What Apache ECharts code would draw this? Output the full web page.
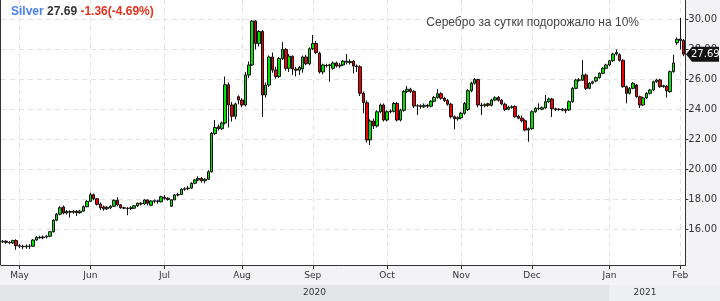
<!DOCTYPE html>
<html><head><meta charset="utf-8">
<script src="https://cdn.jsdelivr.net/npm/echarts@6/dist/echarts.min.js"></script>
<style>html,body{margin:0;padding:0;background:#f3f3f5}#c{width:720px;height:301px}</style>
</head><body><div id="c"></div><script>
// ---- data ----
const firstDay = '2020-04-24';
const lastDay = '2021-02-02';
// [open, close, low, high] per trading day
const candles = [
[15.18,15.22,15.10,15.30],[15.22,15.14,15.05,15.28],[15.14,15.12,15.02,15.22],[15.10,15.26,15.05,15.32],[15.26,14.92,14.65,15.35],
[14.92,14.88,14.75,15.02],[14.88,14.85,14.68,14.98],[14.85,14.90,14.72,15.00],[14.90,14.88,14.70,15.02],[14.88,15.30,14.85,15.35],
[15.30,15.48,15.25,15.55],[15.48,15.45,15.38,15.58],[15.45,15.50,15.35,15.60],[15.50,15.55,15.40,15.62],[15.55,15.85,15.48,15.90],
[15.85,16.62,15.80,16.68],[16.62,17.02,16.55,17.10],[17.02,17.45,16.95,17.55],[17.50,17.10,17.00,17.60],[17.10,17.20,17.00,17.30],
[17.20,17.15,16.80,17.28],[17.15,17.22,17.05,17.30],[17.22,17.12,16.90,17.30],[17.12,17.22,17.05,17.32],[17.22,17.52,17.18,17.60],
[17.52,17.88,17.48,17.95],[17.88,18.32,17.85,18.45],[18.32,18.05,17.95,18.40],[18.05,17.68,17.60,18.10],[17.70,17.45,17.30,17.80],
[17.50,17.38,17.25,17.60],[17.38,17.48,17.30,17.55],[17.45,17.55,17.35,17.62],[17.55,17.95,17.50,18.00],[17.95,17.65,17.55,18.15],
[17.65,17.45,17.38,17.70],[17.45,17.42,17.35,17.52],[17.42,17.40,16.95,17.50],[17.40,17.45,17.30,17.55],[17.42,17.58,17.38,17.62],
[17.58,17.75,17.50,17.80],[17.75,17.70,17.60,17.82],[17.70,17.97,17.62,18.02],[17.97,17.75,17.60,18.00],[17.62,17.90,17.55,17.95],
[17.88,17.92,17.75,18.00],[17.90,17.88,17.72,17.98],[17.85,18.18,17.80,18.25],[18.15,18.08,17.98,18.30],[18.08,18.00,17.92,18.15],
[17.55,17.98,17.50,18.02],[17.98,18.30,17.95,18.38],[18.30,18.33,18.20,18.45],[18.33,18.68,18.30,18.75],[18.68,18.72,18.58,18.82],
[18.72,18.76,18.62,18.90],[18.76,19.08,18.72,19.15],[19.08,19.30,19.02,19.38],[19.30,19.40,19.22,19.55],[19.40,19.25,19.12,19.50],
[19.25,19.35,19.08,19.42],[19.35,19.85,19.30,19.95],[19.85,22.40,19.80,22.50],[22.40,22.80,22.30,23.30],[22.85,22.72,22.60,23.00],
[22.72,23.10,22.65,23.20],[23.10,25.65,23.00,26.20],[25.65,24.30,22.80,25.80],[24.30,23.55,23.20,24.50],[23.55,24.37,23.35,24.45],
[24.85,24.63,24.35,24.95],[24.63,24.30,24.15,24.75],[24.30,26.30,24.20,26.50],[26.30,26.97,26.10,27.20],[26.97,29.90,26.90,29.95],
[29.90,28.40,28.00,29.95],[28.40,29.20,28.20,29.30],[29.20,24.97,23.50,29.30],[24.97,25.63,24.80,25.80],[25.63,27.50,25.50,27.60],
[27.50,26.63,26.45,27.80],[26.63,26.20,26.05,26.85],[26.20,27.40,26.10,27.50],[27.40,28.00,27.30,28.50],[28.00,26.75,26.60,28.10],
[26.75,27.55,26.50,27.70],[27.55,26.70,26.30,27.60],[26.70,26.62,26.20,26.85],[26.62,26.80,26.30,26.90],[26.70,27.50,26.45,27.60],
[27.50,27.05,26.95,27.65],[27.05,28.05,26.95,28.15],[28.05,28.40,27.95,28.97],[28.40,27.80,27.70,28.55],[27.75,26.50,26.40,27.85],
[26.50,26.97,26.35,27.05],[26.95,26.92,26.80,27.05],[26.92,26.98,25.85,27.05],[26.75,27.10,26.65,27.20],[27.10,26.90,26.80,27.20],
[26.90,26.95,26.75,27.10],[26.97,27.22,26.90,27.30],[27.22,27.15,27.00,27.70],[27.12,27.20,27.00,27.35],[27.22,26.90,26.40,27.30],
[26.90,26.85,26.50,27.00],[26.85,25.08,24.90,26.95],[25.08,24.46,23.75,25.20],[24.45,21.97,21.80,24.60],[21.97,23.23,21.63,23.35],
[23.23,22.90,22.70,23.40],[22.90,23.85,22.80,23.95],[23.85,24.30,23.75,24.40],[24.30,23.30,23.20,24.40],[23.30,23.85,23.20,23.95],
[23.85,23.90,23.75,24.00],[23.88,24.40,23.80,24.50],[24.40,23.30,23.20,24.50],[23.30,23.95,23.20,24.05],[23.95,25.20,23.85,25.30],
[25.20,25.35,25.10,25.57],[25.35,25.20,25.10,25.45],[25.20,24.23,24.10,25.30],[24.23,24.25,23.63,24.35],[24.25,24.20,24.05,24.35],
[24.18,24.28,24.10,24.40],[24.28,24.22,24.10,24.38],[24.22,24.55,24.15,24.62],[24.55,24.80,24.48,24.90],[24.80,25.05,24.72,25.35],
[25.05,24.75,24.65,25.15],[24.75,24.60,24.50,24.85],[24.60,24.35,24.25,24.70],[24.35,23.52,23.40,24.45],[23.52,23.38,22.68,23.60],
[23.38,23.45,23.25,23.55],[23.45,23.75,23.35,23.85],[23.75,24.40,23.65,24.50],[24.00,25.25,23.90,25.35],[25.25,25.75,25.15,25.85],
[25.75,26.00,25.65,26.10],[26.00,24.30,24.15,26.05],[24.30,24.25,23.63,24.45],[24.25,24.32,24.15,24.42],[24.38,24.28,24.18,24.45],
[24.28,24.63,24.20,24.72],[24.63,24.78,24.55,24.88],[24.80,24.62,24.52,24.90],[24.62,24.37,24.28,24.70],[24.35,24.00,23.90,24.45],
[24.02,24.15,23.95,24.25],[24.15,24.18,24.05,24.28],[24.20,23.52,23.45,24.28],[23.55,23.42,23.35,23.65],[23.42,23.25,23.15,23.60],
[23.25,22.63,22.55,23.35],[22.63,22.72,21.85,22.80],[22.72,23.85,22.65,23.95],[23.85,24.08,23.78,24.15],[24.08,24.05,23.95,24.41],
[24.02,24.12,23.95,24.20],[24.10,24.52,24.05,24.97],[24.52,24.70,24.45,24.80],[24.70,24.05,23.50,24.78],[24.05,24.00,23.90,24.12],
[24.00,24.02,23.92,24.10],[24.02,23.95,23.88,24.10],[24.00,23.92,23.75,24.08],[23.97,24.52,23.90,24.60],[24.52,25.41,24.45,25.50],
[25.41,25.97,25.35,26.05],[25.97,25.95,25.85,26.10],[25.95,26.30,25.90,27.29],[26.30,25.41,25.30,26.40],[25.41,25.75,25.35,25.82],
[25.75,25.85,25.68,25.92],[25.90,26.13,25.82,26.20],[26.13,26.41,26.05,26.48],[26.41,26.75,26.35,26.82],[26.75,26.97,26.68,27.05],
[26.97,27.25,26.90,27.32],[27.25,27.70,27.18,27.78],[27.70,27.80,27.60,28.00],[27.65,27.28,27.20,27.75],[27.28,25.52,25.45,27.35],
[25.52,25.08,24.41,25.60],[25.08,25.41,25.00,25.50],[25.41,25.75,25.35,25.82],[25.63,24.85,24.78,25.70],[24.85,24.30,24.10,24.92],
[24.30,24.77,24.25,24.85],[24.77,25.08,24.70,25.15],[25.08,25.30,25.00,25.38],[25.30,25.85,25.25,25.92],[25.85,25.97,25.78,26.05],
[25.97,25.52,25.45,26.05],[25.52,25.58,25.45,25.65],[25.55,25.25,24.80,25.62],[25.19,26.52,25.12,26.60],[26.52,27.10,26.45,27.65],
[28.45,28.68,28.30,28.80],[28.70,28.60,28.00,30.10],[28.60,27.69,27.55,28.70]
];
const yTickValues = [16,18,20,22,24,26,28,30];
const monthNames = ['Jan','Feb','Mar','Apr','May','Jun','Jul','Aug','Sep','Oct','Nov','Dec'];
const instrument = 'Silver';
const lastPriceText = '27.69';
const changeText = '-1.36(-4.69%)';
const lastPrice = 27.69;
const note = 'Серебро за сутки подорожало на 10%';

// trading-day calendar (weekdays)
const dates = [];
for (let t = Date.parse(firstDay + 'T00:00:00Z'); t <= Date.parse(lastDay + 'T00:00:00Z'); t += 86400000) {
  const dd = new Date(t);
  const wd = dd.getUTCDay();
  if (wd !== 0 && wd !== 6) dates.push(dd.toISOString().slice(0, 10));
}
const isMonthStart = (i) => i > 0 && dates[i].slice(0, 7) !== dates[i - 1].slice(0, 7);
const monthStarts = dates.filter((d, i) => isMonthStart(i));

const chart = echarts.init(document.getElementById('c'), null, {renderer: 'canvas'});
const FONT = 'DejaVu Sans';
const GRID_RIGHT = 34, GRID_BOTTOM = 36;
chart.setOption({
  animation: false,
  backgroundColor: '#f3f3f5',
  grid: {left: 1, right: GRID_RIGHT, top: 0, bottom: GRID_BOTTOM, show: true, backgroundColor: '#ffffff', borderWidth: 0},
  xAxis: {
    type: 'category', data: dates, boundaryGap: true,
    axisLine: {show: true, lineStyle: {color: '#333', width: 1}},
    axisTick: {show: true, alignWithLabel: true, length: 4, interval: (i) => isMonthStart(i), lineStyle: {color: '#333'}},
    axisLabel: {interval: (i) => isMonthStart(i), formatter: (v) => monthNames[+v.slice(5, 7) - 1],
      fontFamily: FONT, fontSize: 9, color: '#333', margin: 6},
    splitLine: {show: false}
  },
  yAxis: {
    type: 'value', position: 'right', min: 13.633, max: 31.3, scale: true,
    axisLine: {show: true, lineStyle: {color: '#333', width: 1}},
    axisTick: {show: true, length: 3, customValues: yTickValues, lineStyle: {color: '#333'}},
    axisLabel: {customValues: yTickValues, formatter: (v) => v.toFixed(2), fontFamily: FONT, fontSize: 10, color: '#333', margin: 3},
    splitLine: {show: true, lineStyle: {color: '#e3e3e3', type: [5, 4], width: 1}}
  },
  series: [{
    type: 'candlestick', data: candles, barWidth: 3,
    itemStyle: {color: '#00e400', color0: '#f00000', borderColor: '#111', borderColor0: '#111', borderWidth: 1},
    markLine: {
      silent: true, symbol: 'none', label: {show: false},
      lineStyle: {color: '#e3e3e3', type: [5, 4], width: 1},
      data: monthStarts.map(d => ({xAxis: d})),
      z: 1
    }
  }]
});

// overlays positioned through the chart's own scales
const axisX = 720 - GRID_RIGHT;
const plotBottom = 301 - GRID_BOTTOM;
const px = (d) => chart.convertToPixel({xAxisIndex: 0}, d);
const py = chart.convertToPixel({yAxisIndex: 0}, lastPrice);
const yearStart = monthStarts.find(d => d.startsWith('2021'));
const janX = px(yearStart);
const firstMonthX = px(monthStarts[0]);
const nextAfterJan = monthStarts[monthStarts.indexOf(yearStart) + 1];
const febX = px(nextAfterJan);

chart.setOption({graphic: [
  {type: 'line', shape: {x1: 0.5, y1: 0, x2: 0.5, y2: plotBottom}, style: {stroke: '#333', lineWidth: 1}, z: 100},
  {type: 'rect', shape: {x: 0, y: 285, width: janX, height: 16}, style: {fill: '#e4e5e7'}, z: 50},
  {type: 'rect', shape: {x: janX, y: 285, width: 720 - janX, height: 16}, style: {fill: '#eeeff1'}, z: 50},
  {type: 'text', x: (firstMonthX + janX) / 2, y: 293, style: {text: '2020', fill: '#333', font: '9px "DejaVu Sans"', align: 'center', verticalAlign: 'middle'}, z: 60},
  {type: 'text', x: (janX + febX) / 2, y: 293, style: {text: '2021', fill: '#333', font: '9px "DejaVu Sans"', align: 'center', verticalAlign: 'middle'}, z: 60},
  {type: 'text', x: 11, y: 12, z: 100, style: {
    text: '{a|' + instrument + '} {b|' + lastPriceText + '} {c|' + changeText + '}',
    font: 'bold 12px "Liberation Sans"', verticalAlign: 'middle',
    rich: {
      a: {fill: '#4a80ef', fontSize: 12, fontWeight: 'bold', fontFamily: 'Liberation Sans'},
      b: {fill: '#333333', fontSize: 12, fontWeight: 'bold', fontFamily: 'Liberation Sans'},
      c: {fill: '#e4321f', fontSize: 12, fontWeight: 'bold', fontFamily: 'Liberation Sans'}
    }}},
  {type: 'text', x: 639, y: 23, z: 100, style: {text: note, fill: '#444', font: '12px "Liberation Sans"', align: 'right', verticalAlign: 'middle'}},
  {type: 'polygon', z: 100, shape: {points: [[axisX, py], [axisX + 6, py - 7.5], [719, py - 7.5], [719, py + 7.5], [axisX + 6, py + 7.5]]}, style: {fill: '#141414'}},
  {type: 'text', x: axisX + 5, y: py + 0.5, z: 101, style: {text: lastPriceText, fill: '#fff', font: '10px "DejaVu Sans"', align: 'left', verticalAlign: 'middle'}}
]});
</script></body></html>
